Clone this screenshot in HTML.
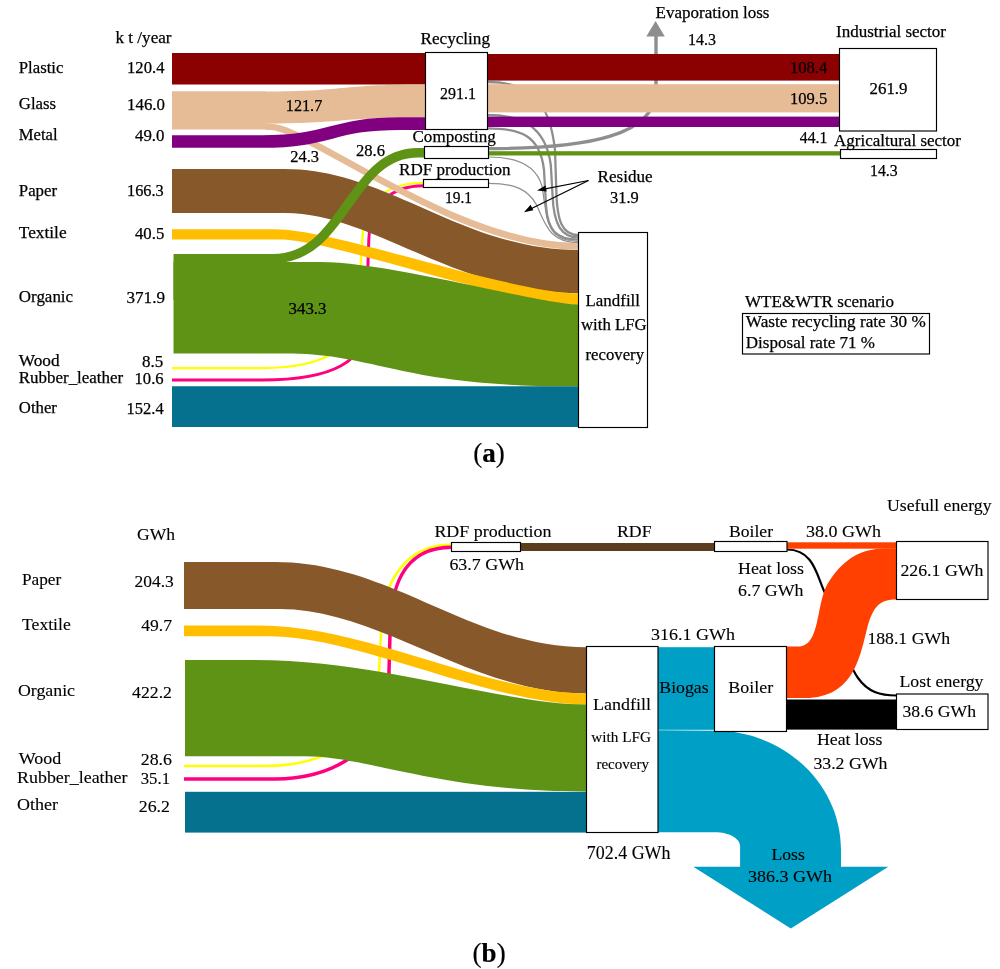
<!DOCTYPE html>
<html lang="en"><head><meta charset="utf-8"><title>Sankey diagrams WTE&amp;WTR scenario</title>
<style>html,body{margin:0;padding:0;background:#fff;}svg{display:block;}text{font-family:'Liberation Serif', 'Times New Roman', serif;fill:#000;stroke:#000;}</style>
</head><body>
<svg width="1000" height="969" viewBox="0 0 1000 969">
<rect x="0" y="0" width="1000" height="969" fill="#fff"/>
<g id="a" style="stroke-width:0.25px">
<path d="M172,368.1 L262,368.1 C330,368.1 360,345 360,300 L360,275 L362.5,238 C364,200 387,182.8 424,182.8" fill="none" stroke="#FFFF00" stroke-width="2.3" />
<path d="M172,380 L262,380 C332,380 367.6,362 367.6,320 L367.6,275 L368.8,240 C370,205 390,185.8 424,185.8" fill="none" stroke="#FF0080" stroke-width="3" />
<path d="M487.5,82 C530,82 549.5,100 555,150 L556.3,190 C557,222 562.5,235.2 578.5,235.2" fill="none" stroke="#8E8E8E" stroke-width="2.3" />
<path d="M487.5,115 C520,115 545.5,125 550.8,165 L552.6,196 C553.8,225 561.5,237.3 578.5,237.3" fill="none" stroke="#8E8E8E" stroke-width="2.3" />
<path d="M487.5,128.4 C520,128.4 540,135 544,170 L546,205 C547.5,230 556,239.6 578.5,239.6" fill="none" stroke="#8E8E8E" stroke-width="2.3" />
<path d="M488.7,157 C515,157 536,165 542,186 L545.5,210 C548,232 558,241.3 578.5,241.3" fill="none" stroke="#8E8E8E" stroke-width="1.2" />
<path d="M488.7,183.3 C515,183.3 528,190 536,204 C545,222 548,242.6 578.5,242.6" fill="none" stroke="#8E8E8E" stroke-width="1.2" />
<path d="M488.5,148.6 C590,148.6 656,135 656,90 L656,35" fill="none" stroke="#8E8E8E" stroke-width="3.4" />
<path d="M646.3,36.6 L664.8,36.6 L655.6,21 Z" fill="#8E8E8E"/>
<rect x="172" y="53" width="254.00" height="31.50" fill="#8B0000"/>
<rect x="487" y="54" width="353.00" height="26.60" fill="#8B0000"/>
<path d="M266,126.8 L270,126.8 C308.56,126.8 455.10,246.4 578.5,246.4" fill="none" stroke="#E5BC96" stroke-width="6.6" />
<path d="M172,169 L285,169 C387.73,169 461.10,250 578.5,250 L578.5,250 L578.5,293.3 L578.5,293.3 C453.76,293.3 373.05,213 285,213 L172,213 Z" fill="#87592A"/>
<path d="M172,229.25 L275,229.25 C335.70,229.25 510.21,293.3 578.5,293.3 L578.5,293.3 L578.5,304.4 L578.5,304.4 C503.88,304.4 332.24,239.5 280,239.5 L172,239.5 Z" fill="#FFBF00"/>
<path d="M173.5,262 L320,262 C391.09,262 539.73,304.4 578.5,304.4 L578.5,304.4 L578.5,386.3 L570,386.3 C399.00,386.3 377.62,353.5 285,353.5 L173.5,353.5 Z" fill="#5F9316"/>
<rect x="173.5" y="254" width="92.50" height="46.00" fill="#5F9316"/>
<rect x="172" y="386.25" width="406.50" height="40.75" fill="#05718F"/>
<path d="M172,91.5 L265,91.5 C342.50,91.5 342.50,84.5 420,84.5 L426,84.5 L426,117.3 L420,117.3 C342.50,117.3 342.50,123.5 265,123.5 L172,123.5 Z" fill="#E5BC96"/>
<rect x="172" y="91.5" width="94.00" height="38.00" fill="#E5BC96"/>
<rect x="487" y="84.2" width="353.00" height="28.20" fill="#E5BC96"/>
<path d="M172,141.5 L262,141.5 C331,141.5 331,123.6 400,123.6 L426,123.6" fill="none" stroke="#800080" stroke-width="12.6" />
<rect x="487" y="116.6" width="353.00" height="10.40" fill="#800080"/>
<path d="M264,258.6 L273,258.6 C345.50,258.6 349.12,152.8 418,152.8 L424.5,152.8" fill="none" stroke="#5F9316" stroke-width="9.4" />
<rect x="488" y="151.2" width="352.50" height="4.30" fill="#5F9316"/>
<rect x="425.5" y="52.5" width="62.00" height="77.00" fill="#fff" stroke="#000" stroke-width="1.15"/>
<rect x="424.5" y="146.5" width="64.00" height="12.00" fill="#fff" stroke="#000" stroke-width="1.15"/>
<rect x="423.5" y="179.5" width="65.00" height="8.00" fill="#fff" stroke="#000" stroke-width="1.15"/>
<rect x="839.5" y="48.5" width="97.00" height="82.50" fill="#fff" stroke="#000" stroke-width="1.15"/>
<rect x="840.5" y="149.5" width="96.00" height="9.00" fill="#fff" stroke="#000" stroke-width="1.15"/>
<rect x="578.5" y="232.5" width="69.00" height="195.00" fill="#fff" stroke="#000" stroke-width="1.15"/>
<rect x="742.5" y="313.5" width="187.00" height="40.50" fill="#fff" stroke="#000" stroke-width="1.15"/>
<path d="M588.5,180.5 L540,189.9" fill="none" stroke="#000" stroke-width="1.25" />
<path d="M537,190.5 L545.5,185.6 L546.6,191.4 Z" fill="#000"/>
<path d="M588.5,180.5 L527,210.8" fill="none" stroke="#000" stroke-width="1.25" />
<path d="M524,212.3 L530.6,204.8 L533.3,210.3 Z" fill="#000"/>
<text x="115.50" y="43.00" font-size="17.4" textLength="56.00" lengthAdjust="spacingAndGlyphs">k t /year</text>
<text x="18.80" y="72.50" font-size="17.4" textLength="44.60" lengthAdjust="spacingAndGlyphs">Plastic</text>
<text x="18.80" y="109.00" font-size="17.4" textLength="37.30" lengthAdjust="spacingAndGlyphs">Glass</text>
<text x="18.80" y="140.00" font-size="17.4" textLength="38.80" lengthAdjust="spacingAndGlyphs">Metal</text>
<text x="18.80" y="195.50" font-size="17.4" textLength="38.30" lengthAdjust="spacingAndGlyphs">Paper</text>
<text x="18.80" y="238.30" font-size="17.4" textLength="47.80" lengthAdjust="spacingAndGlyphs">Textile</text>
<text x="18.80" y="302.00" font-size="17.4" textLength="54.30" lengthAdjust="spacingAndGlyphs">Organic</text>
<text x="18.80" y="365.80" font-size="17.4" textLength="40.80" lengthAdjust="spacingAndGlyphs">Wood</text>
<text x="18.80" y="382.50" font-size="17.4" textLength="104.40" lengthAdjust="spacingAndGlyphs">Rubber_leather</text>
<text x="18.80" y="412.90" font-size="17.4" textLength="38.10" lengthAdjust="spacingAndGlyphs">Other</text>
<text x="127.00" y="73.00" font-size="17.4" textLength="37.50" lengthAdjust="spacingAndGlyphs">120.4</text>
<text x="127.00" y="110.00" font-size="17.4" textLength="38.00" lengthAdjust="spacingAndGlyphs">146.0</text>
<text x="135.00" y="141.00" font-size="17.4" textLength="29.50" lengthAdjust="spacingAndGlyphs">49.0</text>
<text x="127.00" y="196.00" font-size="17.4" textLength="36.80" lengthAdjust="spacingAndGlyphs">166.3</text>
<text x="135.00" y="239.00" font-size="17.4" textLength="29.30" lengthAdjust="spacingAndGlyphs">40.5</text>
<text x="126.50" y="302.50" font-size="17.4" textLength="38.50" lengthAdjust="spacingAndGlyphs">371.9</text>
<text x="142.00" y="366.50" font-size="17.4" textLength="21.20" lengthAdjust="spacingAndGlyphs">8.5</text>
<text x="134.50" y="384.00" font-size="17.4" textLength="29.20" lengthAdjust="spacingAndGlyphs">10.6</text>
<text x="126.50" y="413.70" font-size="17.4" textLength="37.20" lengthAdjust="spacingAndGlyphs">152.4</text>
<text x="420.50" y="43.50" font-size="17.4" textLength="69.50" lengthAdjust="spacingAndGlyphs">Recycling</text>
<text x="440.00" y="99.00" font-size="17.4" textLength="36.00" lengthAdjust="spacingAndGlyphs">291.1</text>
<text x="285.80" y="111.30" font-size="17.4" textLength="36.50" lengthAdjust="spacingAndGlyphs">121.7</text>
<text x="290.20" y="161.90" font-size="17.4" textLength="28.80" lengthAdjust="spacingAndGlyphs">24.3</text>
<text x="356.00" y="155.50" font-size="17.4" textLength="29.00" lengthAdjust="spacingAndGlyphs">28.6</text>
<text x="412.50" y="142.00" font-size="17.4" textLength="83.30" lengthAdjust="spacingAndGlyphs">Composting</text>
<text x="399.00" y="174.50" font-size="17.4" textLength="111.50" lengthAdjust="spacingAndGlyphs">RDF production</text>
<text x="445.00" y="202.50" font-size="17.4" textLength="27.00" lengthAdjust="spacingAndGlyphs">19.1</text>
<text x="597.60" y="182.00" font-size="17.4" textLength="54.90" lengthAdjust="spacingAndGlyphs">Residue</text>
<text x="610.00" y="202.70" font-size="17.4" textLength="28.70" lengthAdjust="spacingAndGlyphs">31.9</text>
<text x="655.50" y="18.00" font-size="17.4" textLength="114.00" lengthAdjust="spacingAndGlyphs">Evaporation loss</text>
<text x="688.00" y="45.00" font-size="17.4" textLength="28.00" lengthAdjust="spacingAndGlyphs">14.3</text>
<text x="790.00" y="73.30" font-size="17.4" textLength="37.30" lengthAdjust="spacingAndGlyphs">108.4</text>
<text x="790.00" y="104.00" font-size="17.4" textLength="37.30" lengthAdjust="spacingAndGlyphs">109.5</text>
<text x="799.80" y="143.30" font-size="17.4" textLength="27.50" lengthAdjust="spacingAndGlyphs">44.1</text>
<text x="836.00" y="36.80" font-size="17.4" textLength="110.00" lengthAdjust="spacingAndGlyphs">Industrial sector</text>
<text x="869.50" y="94.30" font-size="17.4" textLength="38.00" lengthAdjust="spacingAndGlyphs">261.9</text>
<text x="834.00" y="145.90" font-size="17.4" textLength="127.00" lengthAdjust="spacingAndGlyphs">Agricaltural sector</text>
<text x="870.00" y="176.30" font-size="17.4" textLength="27.70" lengthAdjust="spacingAndGlyphs">14.3</text>
<text x="585.50" y="306.00" font-size="17.4" textLength="54.50" lengthAdjust="spacingAndGlyphs">Landfill</text>
<text x="581.00" y="330.00" font-size="17.4" textLength="65.70" lengthAdjust="spacingAndGlyphs">with LFG</text>
<text x="585.50" y="359.50" font-size="17.4" textLength="58.50" lengthAdjust="spacingAndGlyphs">recovery</text>
<text x="288.50" y="314.00" font-size="17.4" textLength="38.00" lengthAdjust="spacingAndGlyphs">343.3</text>
<text x="745.00" y="306.50" font-size="17.4" textLength="149.00" lengthAdjust="spacingAndGlyphs">WTE&amp;WTR scenario</text>
<text x="745.80" y="327.40" font-size="17.4" textLength="180.00" lengthAdjust="spacingAndGlyphs">Waste recycling rate 30 %</text>
<text x="745.80" y="347.90" font-size="17.4" textLength="129.20" lengthAdjust="spacingAndGlyphs">Disposal rate 71 %</text>
<text x="473.3" y="461.5" font-size="27" style="stroke-width:0.2px"><tspan>(</tspan><tspan font-weight="bold">a</tspan><tspan>)</tspan></text>
</g>
<g id="b" style="stroke-width:0.12px">
<path d="M184,766 L265,766 C320,766 378,740 378,690 L381,634 C381,590 400,544.6 452,544.6" fill="none" stroke="#FFFF00" stroke-width="2.6" />
<path d="M184,779 L275,779 C335,779 388.5,745 388.5,690 L390,634 C390,592 400,547.2 452,547.2" fill="none" stroke="#FF0080" stroke-width="3.5" />
<path d="M787,549.5 C816,549.5 817,580 827,597 C840,625 845,660 858,678 C868,692 880,695.5 896.5,695.5" fill="none" stroke="#000" stroke-width="2.2" />
<path d="M184,562 L275,562 C391.81,562 469.69,647.2 586.5,647.2 L586.5,647.2 L586.5,693.5 L586.5,693.5 C471.56,693.5 379.61,609 280,609 L184,609 Z" fill="#87592A"/>
<path d="M184,625.5 L260,625.5 C366.11,625.5 488.55,693.5 586.5,693.5 L586.5,693.5 L586.5,704.5 L586.5,704.5 C491.55,704.5 357.04,636.3 270,636.3 L184,636.3 Z" fill="#FFBF00"/>
<path d="M185,660 L255,660 C379.31,660 503.62,704.5 586.5,704.5 L586.5,704.5 L586.5,791.5 L585,791.5 C438.00,791.5 368.00,756.25 305,756.25 L185,756.25 Z" fill="#5F9316"/>
<rect x="185" y="791.8" width="401.50" height="40.80" fill="#05718F"/>
<rect x="520.5" y="543" width="194.00" height="8.00" fill="#5C3D1E"/>
<rect x="787" y="542.3" width="109.50" height="6.40" fill="#FF4000"/>
<path d="M786.5,646.6 L798,646.6 C822,646.6 815,600 830,580 C845,558 862,549 884,548.6 L896.5,548.6 L896.5,599.6 C880,599.6 874,606 868,625 C860,655 855,698 805,698 L786.5,698 Z" fill="#FF4000"/>
<rect x="786.5" y="699.5" width="110.00" height="30.10" fill="#000"/>
<rect x="658" y="647.2" width="56.50" height="82.60" fill="#009FC6"/>
<path d="M658,730.3 L715,730.8 C784.6,730.8 841,784.3 841,850 L841,866.8 L888.3,866.8 L790.8,928.4 L693.3,866.8 L740.1,866.8 L740.1,846 C740.1,838.4 728.8,832.3 715,832.3 L658,832.3 Z" fill="#009FC6"/>
<rect x="451.5" y="542.5" width="69.00" height="9.00" fill="#fff" stroke="#000" stroke-width="1.15"/>
<rect x="714.5" y="541.5" width="72.50" height="10.00" fill="#fff" stroke="#000" stroke-width="1.15"/>
<rect x="896.5" y="541.5" width="91.50" height="58.00" fill="#fff" stroke="#000" stroke-width="1.15"/>
<rect x="586.5" y="646.5" width="71.50" height="186.00" fill="#fff" stroke="#000" stroke-width="1.15"/>
<rect x="714.5" y="646.5" width="72.00" height="85.00" fill="#fff" stroke="#000" stroke-width="1.15"/>
<rect x="896.5" y="694" width="91.50" height="35.50" fill="#fff" stroke="#000" stroke-width="1.15"/>
<text x="137.00" y="539.50" font-size="16.5" textLength="38.00" lengthAdjust="spacingAndGlyphs">GWh</text>
<text x="22.00" y="584.50" font-size="16.5" textLength="39.25" lengthAdjust="spacingAndGlyphs">Paper</text>
<text x="22.00" y="630.00" font-size="16.5" textLength="48.75" lengthAdjust="spacingAndGlyphs">Textile</text>
<text x="18.00" y="696.30" font-size="16.5" textLength="57.00" lengthAdjust="spacingAndGlyphs">Organic</text>
<text x="18.75" y="763.80" font-size="16.5" textLength="42.50" lengthAdjust="spacingAndGlyphs">Wood</text>
<text x="17.00" y="783.00" font-size="16.5" textLength="110.50" lengthAdjust="spacingAndGlyphs">Rubber_leather</text>
<text x="17.00" y="809.50" font-size="16.5" textLength="41.00" lengthAdjust="spacingAndGlyphs">Other</text>
<text x="134.50" y="587.00" font-size="16.5" textLength="39.25" lengthAdjust="spacingAndGlyphs">204.3</text>
<text x="141.25" y="631.30" font-size="16.5" textLength="30.75" lengthAdjust="spacingAndGlyphs">49.7</text>
<text x="132.00" y="697.50" font-size="16.5" textLength="40.00" lengthAdjust="spacingAndGlyphs">422.2</text>
<text x="140.75" y="765.00" font-size="16.5" textLength="31.25" lengthAdjust="spacingAndGlyphs">28.6</text>
<text x="140.75" y="783.80" font-size="16.5" textLength="29.25" lengthAdjust="spacingAndGlyphs">35.1</text>
<text x="138.75" y="811.80" font-size="16.5" textLength="31.25" lengthAdjust="spacingAndGlyphs">26.2</text>
<text x="434.40" y="536.60" font-size="17.2" textLength="117.00" lengthAdjust="spacingAndGlyphs">RDF production</text>
<text x="617.00" y="536.60" font-size="17.2" textLength="34.60" lengthAdjust="spacingAndGlyphs">RDF</text>
<text x="449.40" y="569.60" font-size="17.2" textLength="74.60" lengthAdjust="spacingAndGlyphs">63.7 GWh</text>
<text x="729.00" y="536.50" font-size="17.2" textLength="44.00" lengthAdjust="spacingAndGlyphs">Boiler</text>
<text x="806.00" y="536.50" font-size="17.2" textLength="75.00" lengthAdjust="spacingAndGlyphs">38.0 GWh</text>
<text x="887.00" y="511.00" font-size="16.8" textLength="104.50" lengthAdjust="spacingAndGlyphs">Usefull energy</text>
<text x="900.40" y="575.50" font-size="17.2" textLength="83.10" lengthAdjust="spacingAndGlyphs">226.1 GWh</text>
<text x="738.00" y="574.00" font-size="17.2" textLength="66.00" lengthAdjust="spacingAndGlyphs">Heat loss</text>
<text x="738.00" y="596.00" font-size="17.2" textLength="65.50" lengthAdjust="spacingAndGlyphs">6.7 GWh</text>
<text x="867.40" y="644.00" font-size="17.2" textLength="82.60" lengthAdjust="spacingAndGlyphs">188.1 GWh</text>
<text x="899.50" y="686.60" font-size="17.2" textLength="84.00" lengthAdjust="spacingAndGlyphs">Lost energy</text>
<text x="902.50" y="716.60" font-size="17.2" textLength="73.50" lengthAdjust="spacingAndGlyphs">38.6 GWh</text>
<text x="817.00" y="744.50" font-size="17.2" textLength="65.40" lengthAdjust="spacingAndGlyphs">Heat loss</text>
<text x="813.40" y="768.50" font-size="17.2" textLength="74.10" lengthAdjust="spacingAndGlyphs">33.2 GWh</text>
<text x="728.30" y="693.30" font-size="17.2" textLength="44.90" lengthAdjust="spacingAndGlyphs">Boiler</text>
<text x="651.00" y="639.70" font-size="17.2" textLength="84.00" lengthAdjust="spacingAndGlyphs">316.1 GWh</text>
<text x="659.30" y="693.00" font-size="17.2" textLength="49.30" lengthAdjust="spacingAndGlyphs">Biogas</text>
<text x="593.00" y="710.00" font-size="17.6" textLength="58.00" lengthAdjust="spacingAndGlyphs">Landfill</text>
<text x="591.30" y="741.70" font-size="15" textLength="59.70" lengthAdjust="spacingAndGlyphs">with LFG</text>
<text x="596.40" y="768.60" font-size="15" textLength="52.60" lengthAdjust="spacingAndGlyphs">recovery</text>
<text x="586.80" y="858.50" font-size="18" textLength="83.70" lengthAdjust="spacingAndGlyphs">702.4 GWh</text>
<text x="771.50" y="860.40" font-size="17.2" textLength="33.30" lengthAdjust="spacingAndGlyphs">Loss</text>
<text x="748.00" y="881.80" font-size="17.2" textLength="84.00" lengthAdjust="spacingAndGlyphs">386.3 GWh</text>
<text x="472.6" y="962.2" font-size="27" style="stroke-width:0.2px"><tspan>(</tspan><tspan font-weight="bold">b</tspan><tspan>)</tspan></text>
</g>
</svg></body></html>
